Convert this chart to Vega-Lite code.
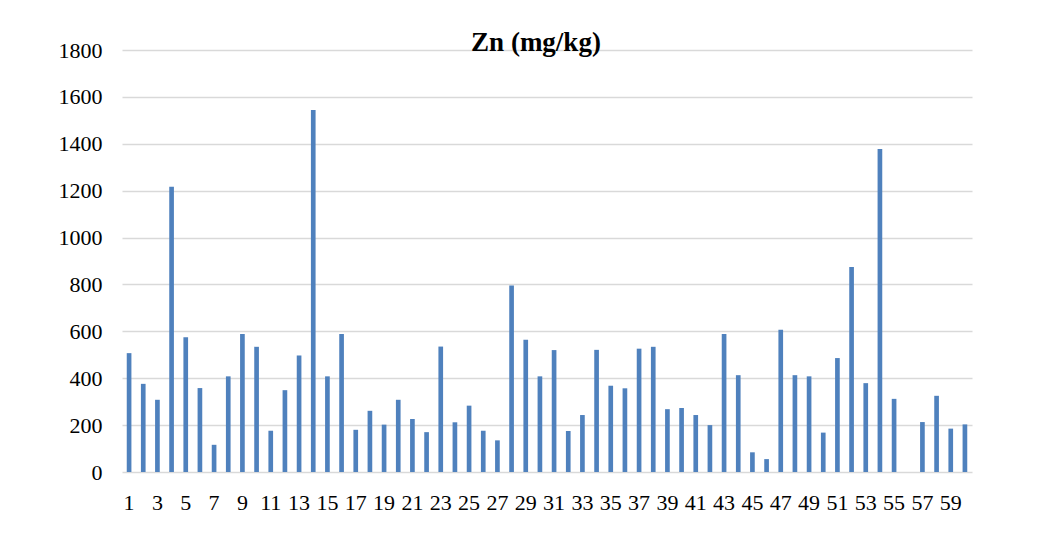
{
  "$schema": "https://vega.github.io/schema/vega-lite/v6.json",
  "width": 850,
  "height": 422,
  "autosize": {"type": "none"},
  "padding": {"left": 122, "top": 50, "right": 88, "bottom": 61},
  "background": "white",
  "title": {
    "text": "Zn (mg/kg)",
    "font": "'Liberation Serif', 'Times New Roman', serif",
    "fontSize": 27,
    "fontWeight": "bold",
    "color": "#000000",
    "baseline": "alphabetic",
    "offset": -2,
    "dy": 37,
    "dx": -11,
    "anchor": "middle"
  },
  "data": {
    "values": [
      {"sample": 1, "zn": 507}, {"sample": 2, "zn": 376}, {"sample": 3, "zn": 308},
      {"sample": 4, "zn": 1217}, {"sample": 5, "zn": 575}, {"sample": 6, "zn": 358},
      {"sample": 7, "zn": 116}, {"sample": 8, "zn": 408}, {"sample": 9, "zn": 589},
      {"sample": 10, "zn": 534}, {"sample": 11, "zn": 176}, {"sample": 12, "zn": 349},
      {"sample": 13, "zn": 497}, {"sample": 14, "zn": 1544}, {"sample": 15, "zn": 408},
      {"sample": 16, "zn": 589}, {"sample": 17, "zn": 180}, {"sample": 18, "zn": 261},
      {"sample": 19, "zn": 202}, {"sample": 20, "zn": 308}, {"sample": 21, "zn": 226},
      {"sample": 22, "zn": 170}, {"sample": 23, "zn": 535}, {"sample": 24, "zn": 212},
      {"sample": 25, "zn": 283}, {"sample": 26, "zn": 176}, {"sample": 27, "zn": 135},
      {"sample": 28, "zn": 795}, {"sample": 29, "zn": 564}, {"sample": 30, "zn": 408},
      {"sample": 31, "zn": 520}, {"sample": 32, "zn": 175}, {"sample": 33, "zn": 243},
      {"sample": 34, "zn": 521}, {"sample": 35, "zn": 368}, {"sample": 36, "zn": 357},
      {"sample": 37, "zn": 526}, {"sample": 38, "zn": 534}, {"sample": 39, "zn": 268},
      {"sample": 40, "zn": 273}, {"sample": 41, "zn": 243}, {"sample": 42, "zn": 200},
      {"sample": 43, "zn": 589}, {"sample": 44, "zn": 413}, {"sample": 45, "zn": 84},
      {"sample": 46, "zn": 55}, {"sample": 47, "zn": 607}, {"sample": 48, "zn": 413},
      {"sample": 49, "zn": 408}, {"sample": 50, "zn": 168}, {"sample": 51, "zn": 486},
      {"sample": 52, "zn": 874}, {"sample": 53, "zn": 379}, {"sample": 54, "zn": 1378},
      {"sample": 55, "zn": 312}, {"sample": 56, "zn": 0}, {"sample": 57, "zn": 213},
      {"sample": 58, "zn": 325}, {"sample": 59, "zn": 185}, {"sample": 60, "zn": 203}
    ]
  },
  "mark": {"type": "bar", "color": "#4f81bd"},
  "encoding": {
    "x": {
      "field": "sample",
      "type": "ordinal",
      "sort": null,
      "scale": {"paddingInner": 0.67, "paddingOuter": 0.335},
      "axis": {
        "title": null,
        "labelAngle": 0,
        "labelExpr": "datum.value % 2 == 1 ? datum.label : ''",
        "labelOverlap": false,
        "labelFont": "'Liberation Serif', 'Times New Roman', serif",
        "labelFontSize": 22,
        "labelColor": "#000000",
        "labelPadding": 20,
        "ticks": false,
        "domain": false,
        "grid": false
      }
    },
    "y": {
      "field": "zn",
      "type": "quantitative",
      "scale": {"domain": [0, 1800], "nice": false},
      "axis": {
        "title": null,
        "format": "d",
        "values": [0, 200, 400, 600, 800, 1000, 1200, 1400, 1600, 1800],
        "labelFont": "'Liberation Serif', 'Times New Roman', serif",
        "labelFontSize": 22,
        "labelColor": "#000000",
        "labelPadding": 20,
        "ticks": false,
        "domain": false,
        "grid": true,
        "gridColor": "#d9d9d9",
        "gridWidth": 1.5
      }
    }
  },
  "config": {
    "view": {"stroke": null}
  }
}
